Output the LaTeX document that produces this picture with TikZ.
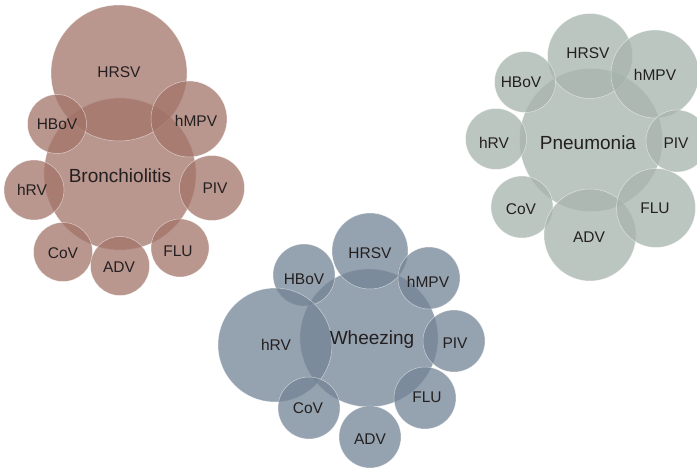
\documentclass[tikz,border=0pt]{standalone}
\usepackage{fontspec}
\setmainfont{Liberation Sans}
\definecolor{bro}{RGB}{162,115,104}
\definecolor{pne}{RGB}{166,179,172}
\definecolor{whe}{RGB}{114,131,148}
\definecolor{txt}{RGB}{35,31,32}
\tikzset{
  bub/.style={circle, inner sep=0pt, fill opacity=0.75, draw=white, draw opacity=0.55, line width=0.5pt},
  brob/.style={bub, fill=bro},
  pneb/.style={bub, fill=pne},
  wheb/.style={bub, fill=whe},
  lbl/.style={text=txt, inner sep=0pt, text height=11.1pt, text depth=0pt, font=\fontsize{15.5}{18}\selectfont},
  big/.style={text=txt, inner sep=0pt, text height=13.6pt, text depth=0pt, font=\fontsize{19}{22}\selectfont}
}
\begin{document}
\begin{tikzpicture}[x=1pt,y=-1pt]
\useasboundingbox (0,0) rectangle (697,468);
% Bronchiolitis
\node[brob, minimum size=152pt] (bmain) at (120,174) {};
\node[brob, minimum size=136pt] (bhrsv) at (119,73) {};
\node[brob, minimum size=59pt] (bhbov) at (57,124) {};
\node[brob, minimum size=76pt] (bhmpv) at (189,119) {};
\node[brob, minimum size=65pt] (bpiv) at (212,188) {};
\node[brob, minimum size=60pt] (bhrv) at (34,190) {};
\node[brob, minimum size=59pt] (bcov) at (63,252) {};
\node[brob, minimum size=59pt] (badv) at (120,266) {};
\node[brob, minimum size=58pt] (bflu) at (180,248) {};
\node[lbl] (lbhrsv) at (119,72) {HRSV};
\node[lbl] (lbhbov) at (57,124) {HBoV};
\node[lbl] (lbhmpv) at (196,121) {hMPV};
\node[big] (lbmain) at (120,176) {Bronchiolitis};
\node[lbl] (lbpiv) at (215,188) {PIV};
\node[lbl] (lbhrv) at (32,190) {hRV};
\node[lbl] (lbcov) at (63,253) {CoV};
\node[lbl] (lbadv) at (119,267) {ADV};
\node[lbl] (lbflu) at (178,251) {FLU};
% Pneumonia
\node[pneb, minimum size=143pt] (pmain) at (591,140) {};
\node[pneb, minimum size=85pt] (phrsv) at (590,56) {};
\node[pneb, minimum size=88pt] (phmpv) at (655,74) {};
\node[pneb, minimum size=61pt] (phbov) at (525,82) {};
\node[pneb, minimum size=61pt] (phrv) at (496,139) {};
\node[pneb, minimum size=62pt] (ppiv) at (677,141) {};
\node[pneb, minimum size=62pt] (pcov) at (522,207) {};
\node[pneb, minimum size=92pt] (padv) at (590,235) {};
\node[pneb, minimum size=79pt] (pflu) at (656,208) {};
\node[lbl] (lphrsv) at (588,53) {HRSV};
\node[lbl] (lphmpv) at (655,75) {hMPV};
\node[lbl] (lphbov) at (521,82) {HBoV};
\node[lbl] (lphrv) at (494,143) {hRV};
\node[big] (lpmain) at (588,143) {Pneumonia};
\node[lbl] (lppiv) at (676,143) {PIV};
\node[lbl] (lpcov) at (521,209) {CoV};
\node[lbl] (lpflu) at (655,208) {FLU};
\node[lbl] (lpadv) at (589,237) {ADV};
% Wheezing
\node[wheb, minimum size=138pt] (wmain) at (369,338) {};
\node[wheb, minimum size=76pt] (whrsv) at (370,251) {};
\node[wheb, minimum size=62pt] (whbov) at (304,275) {};
\node[wheb, minimum size=62pt] (whmpv) at (429,278) {};
\node[wheb, minimum size=114pt] (whrv) at (275,345) {};
\node[wheb, minimum size=62pt] (wpiv) at (454,341) {};
\node[wheb, minimum size=62pt] (wflu) at (425,398) {};
\node[wheb, minimum size=62pt] (wcov) at (309,408) {};
\node[wheb, minimum size=62pt] (wadv) at (370,437) {};
\node[lbl] (lwhrsv) at (370,253) {HRSV};
\node[lbl] (lwhbov) at (304,279) {HBoV};
\node[lbl] (lwhmpv) at (428,282) {hMPV};
\node[lbl] (lwhrv) at (276,345) {hRV};
\node[big] (lwmain) at (372,338) {Wheezing};
\node[lbl] (lwpiv) at (455,343) {PIV};
\node[lbl] (lwflu) at (427,397) {FLU};
\node[lbl] (lwcov) at (308,408) {CoV};
\node[lbl] (lwadv) at (370,439) {ADV};
\end{tikzpicture}
\end{document}
